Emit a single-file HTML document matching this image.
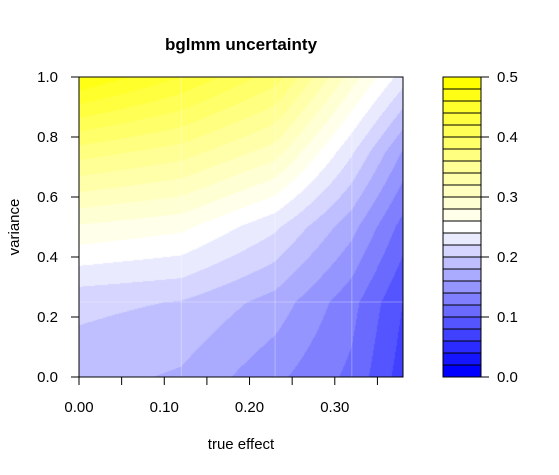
<!DOCTYPE html>
<html><head><meta charset="utf-8"><style>
body{margin:0;background:#fff;}
svg{display:block;font-family:"Liberation Sans",Arial,sans-serif;}
</style></head><body>
<svg id="chart" width="559" height="475" viewBox="0 0 559 475">
<text x="241" y="50" text-anchor="middle" font-size="17" font-weight="bold">bglmm uncertainty</text>
<foreignObject x="79" y="77" width="324" height="300"><canvas xmlns="http://www.w3.org/1999/xhtml" id="cv" width="324" height="300" style="display:block"></canvas></foreignObject>
<g id="grid"></g>
<rect x="79" y="77" width="324" height="300" fill="none" stroke="#000" stroke-width="1"/>
<g id="xaxis"></g>
<g id="yaxis"></g>
<text x="241" y="449" text-anchor="middle" font-size="15">true effect</text>
<text x="0" y="0" transform="translate(19,227) rotate(-90)" text-anchor="middle" font-size="15">variance</text>
<g id="legend"></g>
</svg>
<script>
const xVals = [0, 0.12, 0.23, 0.32, 0.38];
const yVals = [0, 0.25, 0.5, 0.75, 1.0];
// z[i][j] : i indexes xVals, j indexes yVals
const zCol0 = [0.188, 0.2055, 0.277, 0.37, 0.48];
const zCol1 = [0.177, 0.199, 0.265, 0.35, 0.44];
const zCol2 = [0.145, 0.172, 0.224, 0.31, 0.39];
const zCol3 = [0.115, 0.127, 0.167, 0.223, 0.29];
const zCol4 = [0.07, 0.08, 0.112, 0.158, 0.23];
const zGrid = [zCol0, zCol1, zCol2, zCol3, zCol4];
const levelStep = 0.02;
const levelMax = 0.5;
const xTicks = [0, 0.05, 0.10, 0.15, 0.20, 0.25, 0.30, 0.35];
const xTickLabels = ["0.00", "", "0.10", "", "0.20", "", "0.30", ""];
const yTicks = [0, 0.2, 0.4, 0.6, 0.8, 1.0];
const yTickLabels = ["0.0", "0.2", "0.4", "0.6", "0.8", "1.0"];
const legendTicks = [0, 0.1, 0.2, 0.3, 0.4, 0.5];
const legendTickLabels = ["0.0", "0.1", "0.2", "0.3", "0.4", "0.5"];
const gridX = [0.12, 0.23, 0.32];
const gridY = [0.25];

const NS = "http://www.w3.org/2000/svg";
const PX0 = 79, PX1 = 403, PY0 = 77, PY1 = 377;
const XMAX = 0.38;
const sx = v => PX0 + v / XMAX * (PX1 - PX0);
const sy = v => PY1 - v * (PY1 - PY0);
const nBands = Math.round(levelMax / levelStep);
function bandColor(i) {
  const t = i / (nBands - 1);
  let r, g, b;
  if (t <= 0.5) { const f = t * 2; r = g = Math.round(255 * f); b = 255; }
  else { r = g = 255; b = Math.round(255 * (1 - (t - 0.5) * 2)); }
  return [r, g, b];
}
function mk(tag, attrs, parent) {
  const e = document.createElementNS(NS, tag);
  for (const k in attrs) e.setAttribute(k, attrs[k]);
  parent.appendChild(e); return e;
}
function interp(xv, yv) {
  let i = 0; while (i < xVals.length - 2 && xv > xVals[i + 1]) i++;
  let j = 0; while (j < yVals.length - 2 && yv > yVals[j + 1]) j++;
  const tx = Math.min(1, Math.max(0, (xv - xVals[i]) / (xVals[i + 1] - xVals[i])));
  const ty = Math.min(1, Math.max(0, (yv - yVals[j]) / (yVals[j + 1] - yVals[j])));
  const a = zGrid[i][j], b = zGrid[i + 1][j], c = zGrid[i][j + 1], d = zGrid[i + 1][j + 1];
  return a * (1 - tx) * (1 - ty) + b * tx * (1 - ty) + c * (1 - tx) * ty + d * tx * ty;
}
const cv = document.getElementById('cv');
const ctx = cv.getContext('2d');
const W = cv.width, H = cv.height;
const img = ctx.createImageData(W, H);
for (let py = 0; py < H; py++) {
  for (let px = 0; px < W; px++) {
    const xv = (px + 0.5) / W * XMAX;
    const yv = 1 - (py + 0.5) / H;
    const z = interp(xv, yv);
    let bi = Math.floor(z / levelStep);
    bi = Math.max(0, Math.min(nBands - 1, bi));
    const c = bandColor(bi);
    const k = (py * W + px) * 4;
    img.data[k] = c[0]; img.data[k + 1] = c[1]; img.data[k + 2] = c[2]; img.data[k + 3] = 255;
  }
}
ctx.putImageData(img, 0, 0);
const grid = document.getElementById('grid');
gridX.forEach(v => {
  const l = mk('line', {x1: sx(v), x2: sx(v), y1: PY0, y2: PY1, stroke: '#fff', 'stroke-opacity': 0.3, 'stroke-width': 1}, grid);
  
  
});
gridY.forEach(v => {
  const l = mk('line', {x1: PX0, x2: PX1, y1: sy(v), y2: sy(v), stroke: '#fff', 'stroke-opacity': 0.3, 'stroke-width': 1}, grid);
  
  
});
const xa = document.getElementById('xaxis');
mk('line', {x1: sx(xTicks[0]), x2: sx(xTicks[xTicks.length - 1]), y1: PY1, y2: PY1, stroke: '#000'}, xa);
xTicks.forEach((v, i) => {
  const t = mk('line', {x1: sx(v), x2: sx(v), y1: PY1, y2: PY1 + 8, stroke: '#000'}, xa);
  
  
  if (xTickLabels[i]) {
    const tx = mk('text', {x: sx(v), y: 412, 'text-anchor': 'middle', 'font-size': 15}, xa);
    tx.textContent = xTickLabels[i];
    
    
  }
});
const ya = document.getElementById('yaxis');
yTicks.forEach((v, i) => {
  const t = mk('line', {x1: PX0 - 8, x2: PX0, y1: sy(v), y2: sy(v), stroke: '#000'}, ya);
  
  
  const tx = mk('text', {x: 58, y: sy(v) + 5, 'text-anchor': 'end', 'font-size': 15}, ya);
  tx.textContent = yTickLabels[i];
  
  
});
const lg = document.getElementById('legend');
const LX0 = 443, LX1 = 481;
const ly = v => PY1 - v / levelMax * (PY1 - PY0);
for (let i = 0; i < nBands; i++) {
  const c = bandColor(i);
  const r = mk('rect', {x: LX0, y: ly((i + 1) * levelStep), width: LX1 - LX0, height: ly(i * levelStep) - ly((i + 1) * levelStep), fill: `rgb(${c[0]},${c[1]},${c[2]})`, stroke: '#000', 'stroke-width': 1}, lg);
  
  
}
legendTicks.forEach((v, i) => {
  const t = mk('line', {x1: LX1, x2: LX1 + 8, y1: ly(v), y2: ly(v), stroke: '#000'}, lg);
  
  
  const tx = mk('text', {x: 497, y: ly(v) + 5, 'text-anchor': 'start', 'font-size': 15}, lg);
  tx.textContent = legendTickLabels[i];
  
  
});
</script>
</body></html>
